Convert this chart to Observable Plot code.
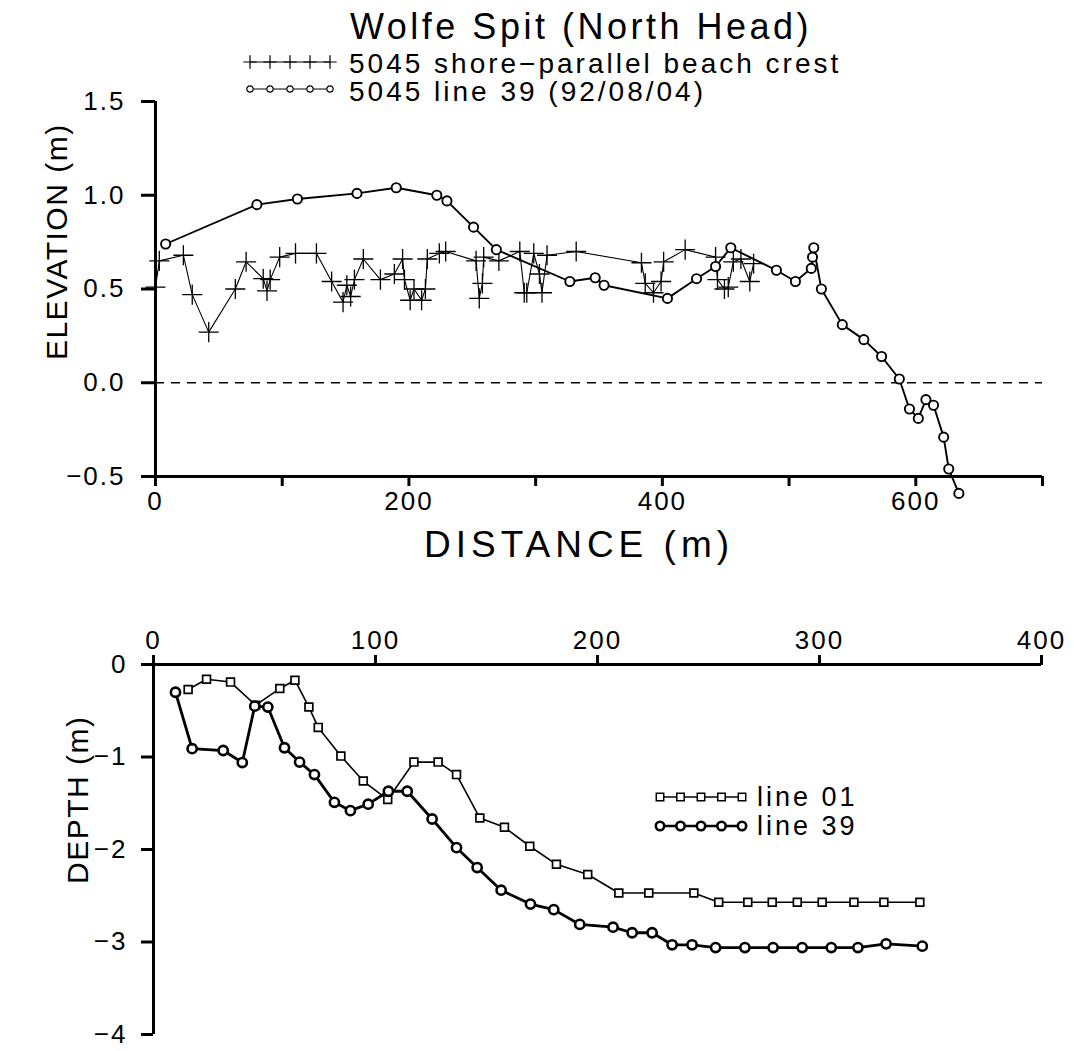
<!DOCTYPE html>
<html><head><meta charset="utf-8">
<script src="https://cdn.jsdelivr.net/npm/d3@7"></script>
<script src="https://cdn.jsdelivr.net/npm/@observablehq/plot@0.6"></script>
<style>
body{margin:0;background:#fff;}
#root{position:relative;width:1074px;height:1051px;overflow:hidden;font-family:"Liberation Sans",Arial,sans-serif;color:#000;}
.t{position:absolute;white-space:nowrap;line-height:1;}
.abs{position:absolute;left:0;}
</style></head><body><div id="root"></div>
<script>
// ---------- data: top panel (Wolfe Spit, North Head) ----------
const crestDist = [0,3,22,29,42,63,71.5,85,88,90.5,98,110.5,127,139,148,151,154,157,164,177.5,188.5,195,196.5,201,204,210,213,214.5,224,229,253,255.5,258,259,271,287.5,291,293,298.5,303,305,309,332,383.5,386.5,393,399,401,418,442,443.5,449,452,456,462,469,472];
const crestElev = [0.51,0.65,0.68,0.47,0.27,0.50,0.645,0.555,0.49,0.55,0.67,0.69,0.69,0.54,0.43,0.52,0.46,0.55,0.66,0.55,0.58,0.66,0.55,0.44,0.50,0.44,0.50,0.66,0.69,0.70,0.65,0.45,0.53,0.67,0.65,0.70,0.48,0.48,0.69,0.58,0.48,0.68,0.70,0.64,0.53,0.48,0.54,0.645,0.71,0.67,0.55,0.50,0.51,0.645,0.66,0.54,0.635];
const line39Dist = [8,80,112,159,190,222,230,251,269,327,347,354,404,427,442,454,490,505,517.5,518.5,519.5,525.5,542,559,573,587,595,602,608,614,622,626,634];
const line39Elev = [0.74,0.95,0.98,1.01,1.04,1.00,0.97,0.83,0.71,0.54,0.56,0.52,0.45,0.555,0.62,0.72,0.60,0.54,0.61,0.67,0.72,0.50,0.31,0.23,0.14,0.02,-0.14,-0.19,-0.09,-0.12,-0.29,-0.46,-0.59];
const topXTicks = [0,100,200,300,400,500,600,700];
const topYTicks = [-0.5,0,0.5,1.0,1.5];

// ---------- data: bottom panel (depth profiles) ----------
const l01Dist = [15.6,23.9,34.7,46,56.9,63.7,70,74.2,84.4,94.5,105.5,117.3,128.2,136.5,147,158.1,169.5,181.5,195.6,209.6,223.1,243.4,254.6,267.7,278.7,290,301.2,315.5,329,345.2];
const l01Depth = [-0.27,-0.16,-0.19,-0.44,-0.26,-0.17,-0.46,-0.68,-0.99,-1.26,-1.46,-1.055,-1.055,-1.19,-1.66,-1.76,-1.965,-2.16,-2.27,-2.47,-2.47,-2.47,-2.57,-2.57,-2.57,-2.57,-2.57,-2.57,-2.57,-2.57];
const l39Dist = [9.9,17.4,31.4,40,45.6,51.5,59,65.8,72.5,81.5,88.7,96.7,105.8,114.3,125.5,136.5,145.8,156.6,169.8,180.3,192,207,215.6,224.6,233.6,242.6,253.2,266.4,279.1,292.2,305.3,317.3,330,346.3];
const l39Depth = [-0.30,-0.91,-0.93,-1.06,-0.45,-0.46,-0.90,-1.055,-1.19,-1.49,-1.58,-1.51,-1.37,-1.37,-1.67,-1.98,-2.195,-2.44,-2.59,-2.65,-2.81,-2.84,-2.90,-2.90,-3.03,-3.03,-3.06,-3.06,-3.06,-3.06,-3.06,-3.06,-3.02,-3.045];
const botXTicks = [0,100,200,300,400];
const botYTicks = [0,-1,-2,-3,-4];

// ---------- texts ----------
const titleText = "Wolfe Spit (North Head)";
const legendTop = ["5045 shore\u2212parallel beach crest", "5045 line 39 (92/08/04)"];
const legendBot = ["line 01", "line 39"];
const xTitleTop = "DISTANCE (m)";
const yTitleTop = "ELEVATION (m)";
const yTitleBot = "DEPTH (m)";

const FONT = '"Liberation Sans", Arial, sans-serif';
const zip = (xs, ys) => xs.map((x, i) => ({x, y: ys[i]}));
const crest = zip(crestDist, crestElev);
const top39 = zip(line39Dist, line39Elev);
const bot01 = zip(l01Dist, l01Depth);
const bot39 = zip(l39Dist, l39Depth);

const root = document.getElementById("root");

function addText(str, left, baseline, fs, ls) {
  const d = document.createElement("div");
  d.className = "t";
  d.textContent = str;
  d.style.fontSize = fs + "px";
  d.style.letterSpacing = ls + "px";
  d.style.left = left + "px";
  d.style.top = (baseline - 0.8465 * fs) + "px";
  root.appendChild(d);
  return d;
}
function addCentered(str, cx, baseline, fs, ls) {
  const d = addText(str, 0, baseline, fs, ls);
  d.style.left = "0px"; d.style.width = (2 * cx) + "px"; d.style.textAlign = "center";
  return d;
}
function addVertical(str, cx, cy, fs, ls) {
  const w = 400;
  const d = document.createElement("div");
  d.className = "t";
  d.textContent = str;
  d.style.fontSize = fs + "px";
  d.style.letterSpacing = ls + "px";
  d.style.width = w + "px";
  d.style.textAlign = "center";
  d.style.left = (cx - w / 2) + "px";
  d.style.top = (cy - fs * 0.49) + "px";
  d.style.height = fs + "px";
  d.style.transformOrigin = `${w/2}px ${fs*0.49}px`;
  d.style.transform = "rotate(-90deg)";
  root.appendChild(d);
}

const AX = 3;

// ---------- top plot ----------
const topPlot = Plot.plot({
  width: 1074, height: 480,
  marginLeft: 155, marginRight: 32, marginTop: 11, marginBottom: 94,
  x: {domain: [0, 700]},
  y: {domain: [-0.5, 1.5]},
  style: {fontFamily: FONT, fontSize: "26px", letterSpacing: "2px", background: "transparent", color: "#000", overflow: "visible"},
  marks: [
    Plot.ruleY([0], {strokeDasharray: "9,7", strokeWidth: 1.3}),
    Plot.axisY({ticks: topYTicks, tickFormat: d3.format(".1f"), tickSize: 14, tickPadding: 16, strokeWidth: AX, label: null, fontSize: 26}),
    Plot.axisX({ticks: topXTicks, tickFormat: d => d % 200 ? "" : String(d), tickSize: 10, tickPadding: 5, strokeWidth: AX, label: null, fontSize: 26}),
    Plot.ruleX([0], {strokeWidth: AX}),
    Plot.ruleY([-0.5], {strokeWidth: AX}),
    Plot.line(crest, {x: "x", y: "y", strokeWidth: 1.1}),
    Plot.dot(crest, {x: "x", y: "y", symbol: "plus", r: 6.5, stroke: "black", strokeWidth: 1.3}),
    Plot.line(top39, {x: "x", y: "y", strokeWidth: 1.9}),
    Plot.dot(top39, {x: "x", y: "y", r: 4.6, fill: "white", stroke: "black", strokeWidth: 1.9})
  ]
});
topPlot.classList.add("abs");
topPlot.style.top = "90px";
root.appendChild(topPlot);

// ---------- bottom plot ----------
const botPlot = Plot.plot({
  width: 1074, height: 451,
  marginLeft: 153, marginRight: 33, marginTop: 64, marginBottom: 17,
  x: {domain: [0, 400]},
  y: {domain: [-4, 0]},
  style: {fontFamily: FONT, fontSize: "26px", letterSpacing: "2px", background: "transparent", color: "#000", overflow: "visible"},
  marks: [
    Plot.axisX({anchor: "top", ticks: botXTicks, tickFormat: d3.format("d"), tickSize: 10, tickPadding: 6, strokeWidth: AX, label: null, fontSize: 26}),
    Plot.axisY({ticks: botYTicks, tickFormat: d3.format("d"), tickSize: 12, tickPadding: 14, strokeWidth: AX, label: null, fontSize: 26}),
    Plot.ruleY([0], {strokeWidth: AX}),
    Plot.ruleX([0], {strokeWidth: AX}),
    Plot.line(bot01, {x: "x", y: "y", strokeWidth: 1.6}),
    Plot.dot(bot01, {x: "x", y: "y", symbol: "square", r: 4.4, fill: "white", stroke: "black", strokeWidth: 1.7}),
    Plot.line(bot39, {x: "x", y: "y", strokeWidth: 2.8}),
    Plot.dot(bot39, {x: "x", y: "y", r: 4.6, fill: "white", stroke: "black", strokeWidth: 2.6})
  ]
});
botPlot.classList.add("abs");
botPlot.style.top = "600px";
root.appendChild(botPlot);

// ---------- titles ----------
addText(titleText, 350, 39, 36, 3.5);
addText(legendTop[0], 349, 74, 28, 3);
addText(legendTop[1], 349, 102, 28, 3);
addCentered(xTitleTop, 579, 557, 37, 5);
addVertical(yTitleTop, 57, 242, 30, 1.5);
addVertical(yTitleBot, 78, 800, 30, 1.5);
addText(legendBot[0], 757, 807, 27, 3);
addText(legendBot[1], 757, 836, 27, 3);

// ---------- legend swatches ----------
function swatch(left, top, w, h, kind) {
  const svg = d3.create("svg").attr("width", w).attr("height", h)
    .style("position", "absolute").style("left", left + "px").style("top", top + "px").style("overflow", "visible");
  const cy = h / 2;
  const xs = d3.range(5).map(i => 4 + i * (w - 8) / 4);
  const sw = kind === "circleBold" ? 2.6 : (kind === "square" ? 1.5 : 1.2);
  svg.append("line").attr("x1", xs[0]).attr("x2", xs[4]).attr("y1", cy).attr("y2", cy).attr("stroke", "black").attr("stroke-width", sw);
  const sym = {plus: d3.symbolPlus, circle: d3.symbolCircle, circleBold: d3.symbolCircle, square: d3.symbolSquare}[kind];
  const size = {plus: 60, circle: 32, circleBold: 55, square: 55}[kind];
  svg.selectAll("path").data(xs).join("path")
    .attr("transform", x => `translate(${x},${cy})`)
    .attr("d", d3.symbol(sym, size))
    .attr("fill", kind === "plus" ? "none" : "white")
    .attr("stroke", "black").attr("stroke-width", sw);
  root.appendChild(svg.node());
}
swatch(246, 56, 88, 12, "plus");
swatch(246, 83, 88, 12, "circle");
swatch(656, 791, 90, 12, "square");
swatch(656, 820, 90, 12, "circleBold");
</script></body></html>
